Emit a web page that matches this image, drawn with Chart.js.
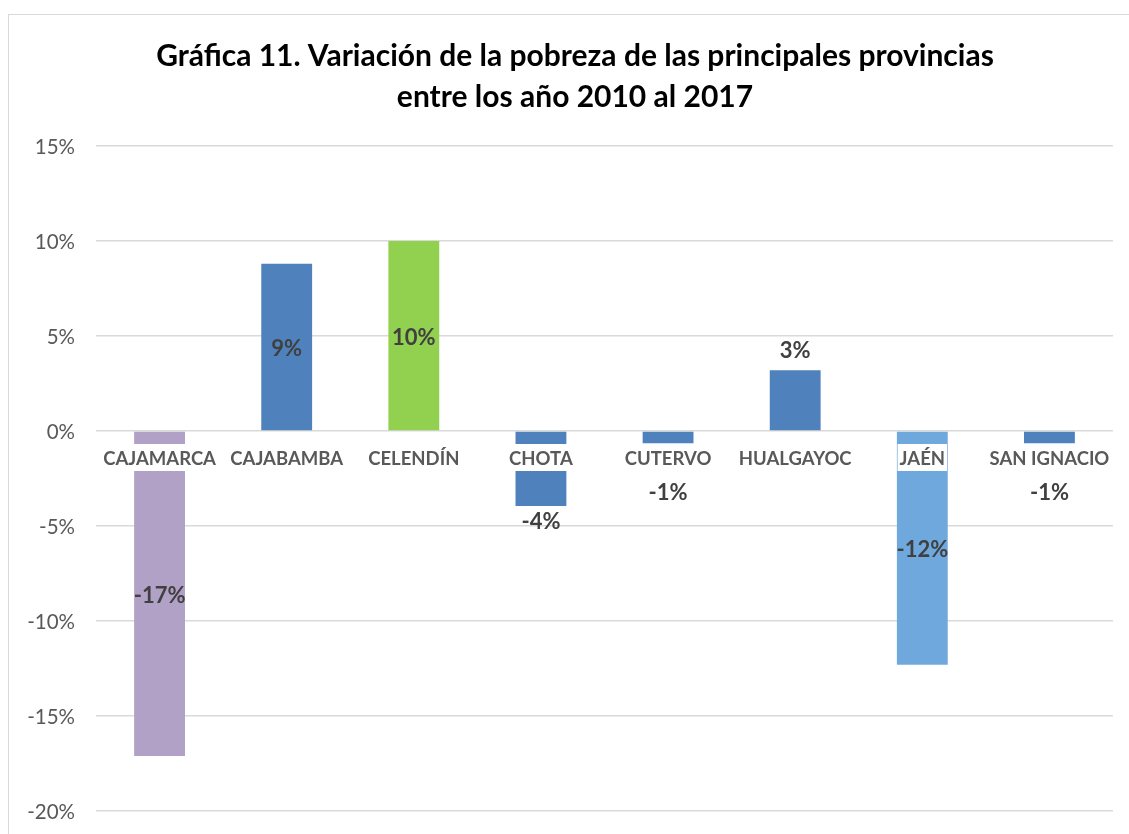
<!DOCTYPE html>
<html lang="es">
  <head>
    <meta charset="UTF-8" />
    <title>Gráfica 11</title>
    <style>
      html, body {
        margin: 0;
        padding: 0;
        background: #fff;
        overflow: hidden;
      }
      .frame {
        position: absolute;
        left: 8px;
        top: 14px;
        width: 1140px;
        height: 840px;
        border: 1px solid #d9d9d9;
      }
      .chart-container {
        position: absolute;
        left: 0;
        top: 0;
        width: 1129px;
        height: 834px;
      }
    </style>
    <script src="https://cdn.jsdelivr.net/npm/chart.js"></script>
  </head>
  <body>
    <div class="frame"></div>
    <div class="chart-container">
      <canvas id="povertyChart"></canvas>
    </div>

    <script>
      const titleLines = [
        "Gráfica 11. Variación de la pobreza de las principales provincias",
        "entre los año 2010 al 2017",
      ];
      const provinces = ["CAJAMARCA", "CAJABAMBA", "CELENDÍN", "CHOTA", "CUTERVO", "HUALGAYOC", "JAÉN", "SAN IGNACIO"];
      const variation = [-0.171, 0.088, 0.1, -0.0395, -0.0065, 0.032, -0.123, -0.0065];
      const barColors = ["#b2a1c7", "#4f81bd", "#92d050", "#4f81bd", "#4f81bd", "#4f81bd", "#6fa8dc", "#4f81bd"];
      // where Excel put each value label: inside the bar or past its end
      const labelPlace = ["center", "center", "center", "end", "end", "end", "center", "end"];
      const yTicks = [-0.2, -0.15, -0.1, -0.05, 0, 0.05, 0.1, 0.15];

      const FONT = "Lato, 'Noto Sans', sans-serif";

      function pct(v) {
        return Math.round(v * 100) + "%";
      }

      // title and y labels drawn by hand so they don't push the plot area around
      const chartText = {
        id: "chartText",
        afterDraw(chart) {
          const ctx = chart.ctx;
          const y = chart.scales.y;
          ctx.save();
          ctx.textAlign = "center";
          ctx.textBaseline = "middle";
          ctx.fillStyle = "#000";
          ctx.font = "bold 30px " + FONT;
          titleLines.forEach((line, i) => {
            ctx.fillText(line, 575, 56 + i * 41);
          });

          ctx.textAlign = "right";
          ctx.fillStyle = "#595959";
          ctx.font = "20.5px " + FONT;
          yTicks.forEach((v) => {
            ctx.fillText(pct(v), chart.chartArea.left - 21, y.getPixelForValue(v) + 1);
          });
          ctx.restore();
        },
      };

      // category names sit on the zero line with a white box behind them
      const zeroLineLabels = {
        id: "zeroLineLabels",
        afterDatasetsDraw(chart) {
          const ctx = chart.ctx;
          const x = chart.scales.x;
          const y0 = chart.scales.y.getPixelForValue(0);
          ctx.save();
          ctx.font = "bold 18.5px " + FONT;
          ctx.textAlign = "center";
          ctx.textBaseline = "middle";
          provinces.forEach((name, i) => {
            const cx = x.getPixelForValue(i);
            const w = ctx.measureText(name).width + 4;
            ctx.fillStyle = "#fff";
            ctx.fillRect(cx - w / 2, y0 + 13, w, 27);
            ctx.fillStyle = "#595959";
            ctx.fillText(name, cx, y0 + 28);
          });
          ctx.restore();
        },
      };

      const valueLabels = {
        id: "valueLabels",
        afterDraw(chart) {
          const ctx = chart.ctx;
          const meta = chart.getDatasetMeta(0);
          const y0 = chart.scales.y.getPixelForValue(0);
          ctx.save();
          ctx.font = "bold 22px " + FONT;
          ctx.textAlign = "center";
          ctx.textBaseline = "middle";
          ctx.fillStyle = "#404040";
          meta.data.forEach((bar, i) => {
            const v = variation[i];
            let ty;
            if (labelPlace[i] === "center") {
              ty = (bar.y + y0) / 2 + 2;
            } else if (v >= 0) {
              ty = bar.y - 19;
            } else {
              // pushed below the category name when the bar is short
              ty = Math.max(bar.y + 16, y0 + 62);
            }
            ctx.fillText(pct(v), bar.x, ty);
          });
          ctx.restore();
        },
      };

      const ctx = document.getElementById("povertyChart").getContext("2d");
      new Chart(ctx, {
        type: "bar",
        data: {
          labels: provinces,
          datasets: [
            {
              data: variation,
              backgroundColor: barColors,
              barPercentage: 0.4,
              categoryPercentage: 1,
            },
          ],
        },
        plugins: [zeroLineLabels, valueLabels, chartText],
        options: {
          responsive: true,
          maintainAspectRatio: false,
          animation: false,
          layout: {
            padding: { left: 0, right: 16, top: 146, bottom: 23 },
          },
          plugins: {
            legend: { display: false },
            tooltip: { enabled: false },
            title: { display: false },
          },
          scales: {
            x: {
              display: false,
            },
            y: {
              min: -0.2,
              max: 0.15,
              afterBuildTicks(axis) {
                axis.ticks = yTicks.map((v) => ({ value: v }));
              },
              afterFit(axis) {
                axis.width = 96;
              },
              border: { display: false },
              grid: {
                color: "#d9d9d9",
                lineWidth: 1.5,
                drawTicks: false,
              },
              ticks: {
                display: false,
              },
            },
          },
        },
      });
    </script>
  </body>
</html>
